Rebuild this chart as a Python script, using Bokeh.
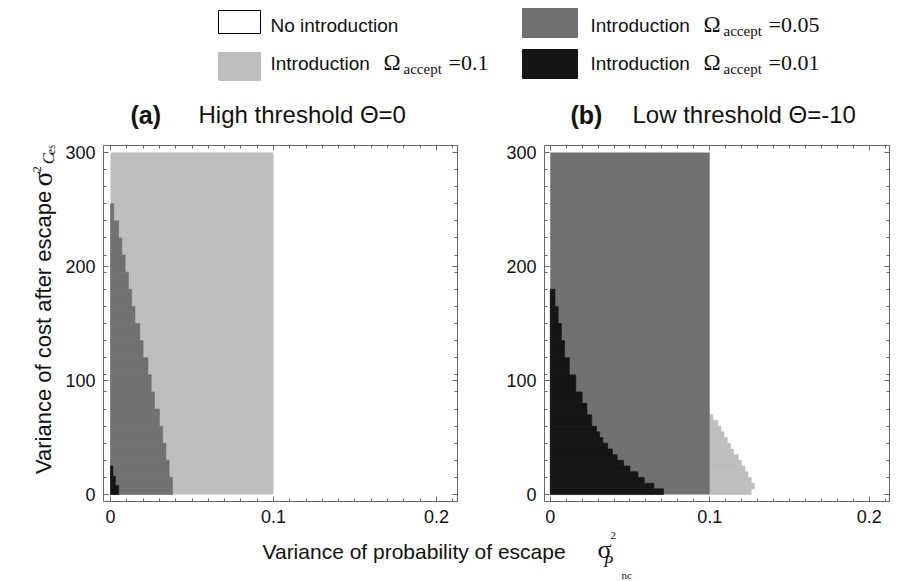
import math
from bokeh.plotting import figure
from bokeh.models import Range1d, LinearAxis, FixedTicker, CustomLabelingPolicy
from bokeh.layouts import column, row
from bokeh.embed import file_html
from bokeh.resources import INLINE
from bokeh.core.properties import value

# ---------------- data ----------------
x_ticks = [0, 0.1, 0.2]
x_tick_labels = ["0", "0.1", "0.2"]
x_minor = [0.0, 0.01, 0.02, 0.03, 0.04, 0.05, 0.06, 0.07, 0.08, 0.09, 0.1,
           0.11, 0.12, 0.13, 0.14, 0.15, 0.16, 0.17, 0.18, 0.19, 0.2, 0.21]
y_ticks = [0, 100, 200, 300]
y_tick_labels = ["0", "100", "200", "300"]
y_minor = [0, 15, 30, 45, 60, 75, 90, 105, 120, 135, 150, 165, 180, 195, 210,
           225, 240, 255, 270, 285, 300]

# panel (a): High threshold
a_light_x = [0.0, 0.1]          # introduction at Omega=0.1
a_light_y = [0, 300]
a_dark_y = [0, 15, 30, 45, 60, 75, 90, 105, 120, 135, 150, 165, 180, 195, 210, 225, 240, 255]
a_dark_x = [0.038, 0.036, 0.034, 0.032, 0.030, 0.027, 0.025, 0.023, 0.020, 0.018,
            0.015, 0.013, 0.011, 0.009, 0.007, 0.005, 0.002]
a_black_y = [0, 8, 16, 25]
a_black_x = [0.005, 0.003, 0.0015]

# panel (b): Low threshold
b_dark_x = [0.0, 0.1]           # introduction at Omega=0.05
b_dark_y = [0, 300]
b_light_y = [0, 5, 10, 15, 20, 25, 30, 35, 40, 45, 50, 55, 60, 65, 70]
b_light_x = [0.126, 0.128, 0.126, 0.124, 0.122, 0.120, 0.118, 0.115, 0.113, 0.111,
             0.109, 0.107, 0.105, 0.102]
b_black_y = [0, 5, 10, 15, 20, 25, 30, 35, 40, 45, 50, 55, 60, 70, 80, 90, 105, 120,
             135, 150, 165, 180]
b_black_x = [0.071, 0.065, 0.059, 0.055, 0.050, 0.046, 0.042, 0.039, 0.036, 0.033,
             0.031, 0.029, 0.026, 0.023, 0.020, 0.016, 0.012, 0.009, 0.007, 0.005, 0.003]

C_LIGHT = "#bebebe"
C_DARK = "#717171"
C_BLACK = "#151515"
AX_COL = "#666666"
TXT = "#111111"
SANS = "Liberation Sans"
SERIF = "Liberation Serif"

# ---------------- header (legend + titles) ----------------
hdr = figure(width=910, height=130, x_range=Range1d(0, 910), y_range=Range1d(130, 0),
             output_backend="svg", toolbar_location=None, min_border=0,
             x_axis_location=None, y_axis_location=None)
hdr.grid.visible = False
hdr.outline_line_color = None

hdr.quad(left=[218, 218, 522, 522], right=[260, 260, 577, 577],
         top=[10, 52, 8, 49], bottom=[33, 80, 37, 78],
         fill_color=["white", C_LIGHT, C_DARK, C_BLACK],
         line_color=["black", C_LIGHT, C_DARK, C_BLACK], line_width=1)

def htext(x, y, t, size, font=SANS, style="normal"):
    hdr.text(x=[x], y=[y], text=[t], text_font=value(font), text_font_size=size,
             text_font_style=style, text_align="left", text_baseline="middle",
             text_color=TXT)

# legend rows (y = vertical middle of each text)
htext(270, 25, "No introduction", "19px")
htext(270, 63, "Introduction", "19px")
htext(383, 62, "Ω", "23px", SERIF)
htext(403, 68, "accept", "15px", SERIF)
htext(448, 62, "=0.1", "22px", SERIF)
htext(590, 25, "Introduction", "19px")
htext(703, 24, "Ω", "23px", SERIF)
htext(723, 30, "accept", "15px", SERIF)
htext(768, 24, "=0.05", "22px", SERIF)
htext(590, 63, "Introduction", "19px")
htext(703, 62, "Ω", "23px", SERIF)
htext(723, 68, "accept", "15px", SERIF)
htext(768, 62, "=0.01", "22px", SERIF)

htext(130, 114, "(a)", "25px", SANS, "bold")
htext(198, 114, "High threshold Θ=0", "24px")
htext(570, 114, "(b)", "25px", SANS, "bold")
htext(632, 114, "Low threshold Θ=-10", "24px")

# ---------------- y label strip ----------------
ylab = figure(width=62, height=400, x_range=Range1d(0, 62), y_range=Range1d(-530, -130),
              output_backend="svg", toolbar_location=None, min_border=0,
              x_axis_location=None, y_axis_location=None)
ylab.grid.visible = False
ylab.outline_line_color = None

def vtext(x, y, t, size, font=SANS, style="normal", align="left"):
    ylab.text(x=[x], y=[-y], text=[t], angle=math.pi / 2, text_font=value(font),
              text_font_size=size, text_font_style=style, text_align=align,
              text_baseline="middle", text_color=TXT)

vtext(43, 340, "Variance of cost after escape", "22px", align="center")
vtext(42, 176, "σ", "28px", SERIF)
vtext(36, 160, "2", "12px", SERIF)
vtext(48, 151, "C", "17px", SERIF, "italic")
vtext(50, 140, "es", "12px", SERIF)

# ---------------- panels ----------------
no_labels = CustomLabelingPolicy(code="return new Set()")


def style_axis(ax, labels):
    ax.axis_line_color = AX_COL
    ax.major_tick_line_color = AX_COL
    ax.minor_tick_line_color = AX_COL
    ax.major_tick_in = 5
    ax.major_tick_out = 0
    ax.minor_tick_in = 3
    ax.minor_tick_out = 0
    if labels is not None:
        ax.major_label_text_font = SANS
        ax.major_label_text_font_size = "18px"
        ax.major_label_text_color = TXT
        ax.major_label_overrides = labels
    else:
        ax.major_label_policy = no_labels
        ax.major_label_standoff = 0


def make_panel(width, mbl, mbr, xr):
    p = figure(width=width, height=400, x_range=Range1d(*xr), y_range=Range1d(-6.1, 306.1),
               output_backend="svg", toolbar_location=None,
               min_border_left=mbl, min_border_right=mbr, min_border_top=15,
               min_border_bottom=29)
    p.grid.visible = False
    p.outline_line_color = None
    xlab = {t: l for t, l in zip(x_ticks, x_tick_labels)}
    ylabd = {t: l for t, l in zip(y_ticks, y_tick_labels)}
    p.xaxis[0].ticker = FixedTicker(ticks=x_ticks, minor_ticks=x_minor)
    p.yaxis[0].ticker = FixedTicker(ticks=y_ticks, minor_ticks=y_minor)
    style_axis(p.xaxis[0], xlab)
    style_axis(p.yaxis[0], ylabd)
    p.xaxis[0].major_label_standoff = 8
    p.yaxis[0].major_label_standoff = 8
    top = LinearAxis(ticker=FixedTicker(ticks=x_ticks, minor_ticks=x_minor))
    right = LinearAxis(ticker=FixedTicker(ticks=y_ticks, minor_ticks=y_minor))
    style_axis(top, None)
    style_axis(right, None)
    p.add_layout(top, "above")
    p.add_layout(right, "right")
    return p


def draw_rows(p, x_left, ys, xs, color):
    p.quad(left=x_left, right=xs, bottom=ys[:-1], top=ys[1:],
           fill_color=color, line_color=color, line_width=0.6)


pa = make_panel(418, 41, 23, (-0.0043, 0.2129))
pa.quad(left=[a_light_x[0]], right=[a_light_x[1]], bottom=[a_light_y[0]], top=[a_light_y[1]],
        fill_color=C_LIGHT, line_color=None)
draw_rows(pa, 0, a_dark_y, a_dark_x, C_DARK)
draw_rows(pa, 0, a_black_y, a_black_x, C_BLACK)

pb = make_panel(430, 64, 7, (-0.0036, 0.2127))
draw_rows(pb, b_dark_x[1], b_light_y, b_light_x, C_LIGHT)
pb.quad(left=[b_dark_x[0]], right=[b_dark_x[1]], bottom=[b_dark_y[0]], top=[b_dark_y[1]],
        fill_color=C_DARK, line_color=None)
draw_rows(pb, 0, b_black_y, b_black_x, C_BLACK)

# ---------------- footer (x label) ----------------
ftr = figure(width=910, height=51, x_range=Range1d(0, 910), y_range=Range1d(581, 530),
             output_backend="svg", toolbar_location=None, min_border=0,
             x_axis_location=None, y_axis_location=None)
ftr.grid.visible = False
ftr.outline_line_color = None

def ftext(x, y, t, size, font=SANS, style="normal"):
    ftr.text(x=[x], y=[y], text=[t], text_font=value(font), text_font_size=size,
             text_font_style=style, text_align="left", text_baseline="middle",
             text_color=TXT)

ftext(262, 551, "Variance of probability of escape", "21px")
ftext(597, 549, "σ", "26px", SERIF)
ftext(610, 535, "2", "11px", SERIF)
ftext(603, 561, "P", "16px", SERIF, "italic")
ftext(621, 574, "nc", "11px", SERIF)

layout = column(hdr, row(ylab, pa, pb), ftr)
open("out.html", "w").write(file_html(layout, INLINE))
